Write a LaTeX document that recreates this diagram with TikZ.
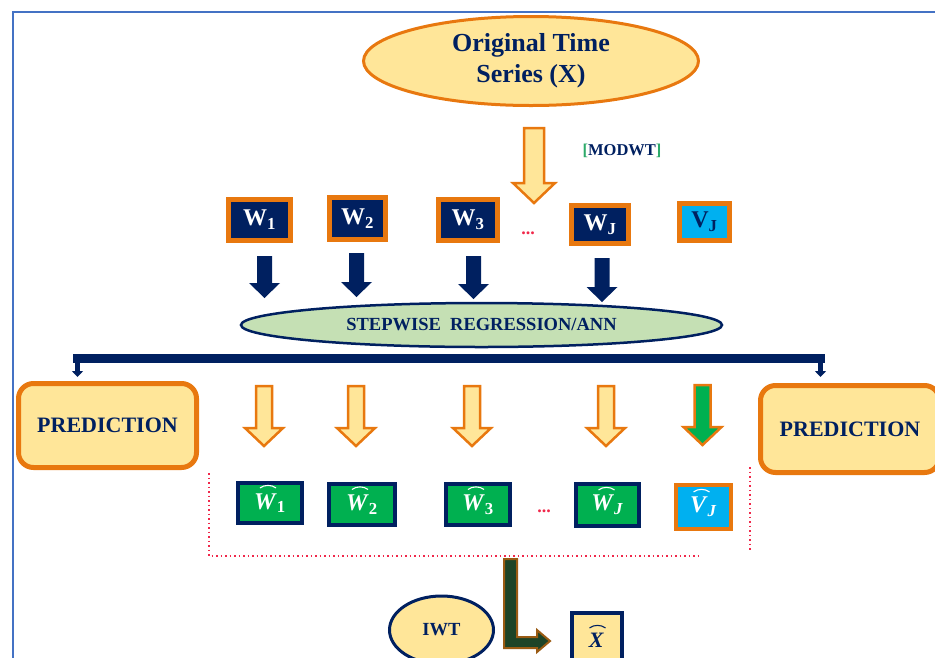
\documentclass[tikz,border=0pt]{standalone}
\usepackage{fontspec}
\setmainfont{Liberation Serif}
\usetikzlibrary{arrows.meta,shapes.geometric,calc}
\definecolor{navy}{HTML}{002060}
\definecolor{orng}{HTML}{E8780F}
\definecolor{lyel}{HTML}{FFE699}
\definecolor{grn}{HTML}{00B050}
\definecolor{cyn}{HTML}{00B0F0}
\definecolor{lgrn}{HTML}{C5E0B4}
\definecolor{dgrn}{HTML}{1D4427}
\definecolor{brwn}{HTML}{9A5B13}
\definecolor{frameblue}{HTML}{4472C4}
\definecolor{redd}{HTML}{F0284A}
\definecolor{brk}{HTML}{2DAA6A}
\newcommand\blkarrow[7]{%
  \path[#1] ({#2-#5},#3) -- ({#2+#5},#3) -- ({#2+#5},{#4-#7}) -- ({#2+#6},{#4-#7})
    -- (#2,#4) -- ({#2-#6},{#4-#7}) -- ({#2-#5},{#4-#7}) -- cycle;}
\newcommand\hatarc[4]{%
  \draw[#1] ($(#2)+({#3-8},{#4})$) .. controls ($(#2)+({#3-4},{#4-3.5})$)
    and ($(#2)+({#3+4},{#4-3.5})$) .. ($(#2)+({#3+8},{#4})$);}
\begin{document}
\begin{tikzpicture}[x=1pt,y=-1pt,
  wbox/.style={draw=orng, fill=navy, line width=5pt, inner sep=0pt, text=white,
     font=\fontsize{24}{24}\selectfont\bfseries},
  hbox/.style={draw=navy, fill=grn, line width=4pt, inner sep=0pt, text=white,
     font=\fontsize{24}{24}\selectfont\bfseries},
  predbox/.style={draw=orng, fill=lyel, line width=5pt, rounded corners=15pt,
     inner sep=0pt, text=navy, font=\fontsize{22}{22}\selectfont\bfseries},
  navyarrow/.style={fill=navy},
  hollowarrow/.style={fill=lyel, draw=orng, line width=2.5pt, line join=miter},
  reddot/.style={draw=redd, line width=2pt, dash pattern=on 1.5pt off 3pt},
  dotstext/.style={text=redd, font=\fontsize{18}{18}\selectfont\bfseries, inner sep=0pt},
  hatline/.style={white, line width=1.1pt}
]
\useasboundingbox (0,0) rectangle (935,657);
\clip (0,0) rectangle (935,657);

% frame
\draw[frameblue, line width=1.5pt] (13,660) -- (13,12) -- (940,12);

% original series
\node[ellipse, draw=orng, fill=lyel, line width=3pt, minimum width=335pt,
  minimum height=89pt, inner sep=0pt, align=center, text=navy,
  font=\fontsize{26}{31}\selectfont\bfseries] (orig) at (531,61)
  {Original Time\\Series (X)};

% MODWT arrow
\blkarrow{hollowarrow}{534}{128}{203}{10}{21}{20}
\node[inner sep=0pt, text=navy, font=\fontsize{16.5}{16.5}\selectfont\bfseries] (modwt) at (622,151)
  {\textcolor{brk}{[}MODWT\textcolor{brk}{]}};

% top row
\node[wbox, minimum width=62pt, minimum height=41pt] (w1) at (259.5,220) {W\textsubscript{1}};
\node[wbox, minimum width=56pt, minimum height=42pt] (w2) at (357.5,218.5) {W\textsubscript{2}};
\node[wbox, minimum width=59pt, minimum height=41pt] (w3) at (468,220) {W\textsubscript{3}};
\node[dotstext] (dots1) at (528,233) {...};
\node[wbox, minimum width=57pt, minimum height=38pt] (wj) at (600,224.5) {W\textsubscript{J}};
\node[wbox, fill=cyn, text=navy, minimum width=50pt, minimum height=37pt] (vj) at (704.5,222) {V\textsubscript{J}};

% navy arrows
\blkarrow{navyarrow}{264.5}{256}{298}{7.5}{15.5}{15}
\blkarrow{navyarrow}{356.5}{253}{297}{7.5}{15.5}{15}
\blkarrow{navyarrow}{473.5}{256}{299}{7.5}{15.5}{15}
\blkarrow{navyarrow}{602}{258}{302}{7.5}{15.5}{15}

% stepwise ellipse
\node[ellipse, draw=navy, fill=lgrn, line width=2.5pt, minimum width=481pt,
  minimum height=44pt, inner sep=0pt, text=navy,
  font=\fontsize{18.5}{18.5}\selectfont\bfseries] (step) at (481.5,325)
  {STEPWISE\ \ REGRESSION/ANN};

% navy bracket
\draw[navy, line width=9pt] (73,358.5) -- (825,358.5);
\draw[navy, line width=4.5pt, -{Triangle[width=11pt,length=6pt]}] (77.5,356) -- (77.5,377);
\draw[navy, line width=4.5pt, -{Triangle[width=11pt,length=6pt]}] (820.5,356) -- (820.5,377);

% prediction boxes
\node[predbox, minimum width=178pt, minimum height=84pt] (predl) at (107.5,425.5) {PREDICTION};
\node[predbox, minimum width=179pt, minimum height=87pt] (predr) at (850,429) {PREDICTION};

% hollow arrows second row
\blkarrow{hollowarrow}{264}{386}{446}{8}{19}{18}
\blkarrow{hollowarrow}{356}{386}{446}{8}{19}{18}
\blkarrow{hollowarrow}{472}{386}{446}{8}{19}{18}
\blkarrow{hollowarrow}{606}{386}{446}{8}{19}{18}
\blkarrow{hollowarrow, fill=grn}{702.5}{385}{445}{8}{19}{18}

% hat boxes
\node[hbox, minimum width=64pt, minimum height=40pt] (h1) at (270,503) {\textit{W}\textsubscript{1}};
\node[hbox, minimum width=66pt, minimum height=41pt] (h2) at (362,504.5) {\textit{W}\textsubscript{2}};
\node[hbox, minimum width=64pt, minimum height=41pt] (h3) at (478,504.5) {\textit{W}\textsubscript{3}};
\node[dotstext] (dots2) at (544,511) {...};
\node[hbox, minimum width=63pt, minimum height=42pt] (hj) at (607.5,505) {\textit{W}\textsubscript{\textit{J}}};
\node[hbox, draw=orng, fill=cyn, line width=4.5pt, minimum width=55pt, minimum height=44pt] (hv) at (703.5,507) {\textit{V}\textsubscript{\textit{J}}};
\hatarc{hatline}{h1}{-2}{-15}
\hatarc{hatline}{h2}{-2}{-15}
\hatarc{hatline}{h3}{-2}{-15}
\hatarc{hatline}{hj}{-1}{-15}
\hatarc{hatline}{hv}{-2}{-15}

% red dotted bracket
\coordinate (dtl) at (209,473);
\coordinate (dbl) at (209,556);
\coordinate (dbr) at (701,556);
\coordinate (drt) at (750,467);
\coordinate (drb) at (750,551);
\draw[reddot] (dtl) -- (dbl) -- (dbr);
\draw[reddot] (drt) -- (drb);

% IWT
\node[ellipse, draw=navy, fill=lyel, line width=3pt, minimum width=104pt,
  minimum height=68pt, inner sep=0pt, text=navy,
  font=\fontsize{18.5}{18.5}\selectfont\bfseries] (iwt) at (441.5,630) {IWT};

% X hat
\node[draw=navy, fill=lyel, line width=4pt, minimum width=50pt, minimum height=55pt,
  inner sep=0pt] (xh) at (596.5,640) {};
\node[text=navy, inner sep=0pt, font=\fontsize{22}{22}\selectfont\bfseries] (xhl) at (596.5,640) {\textit{X}};
\hatarc{navy, line width=1.1pt}{xhl}{1}{-12}

% dark green L arrow
\path[fill=dgrn, draw=brwn, line width=2pt, line join=miter]
  (504,559) -- (517,559) -- (517,637) -- (537,637) -- (537,630) -- (550,641)
  -- (537,652) -- (537,648) -- (504,648) -- cycle;
\end{tikzpicture}
\end{document}
